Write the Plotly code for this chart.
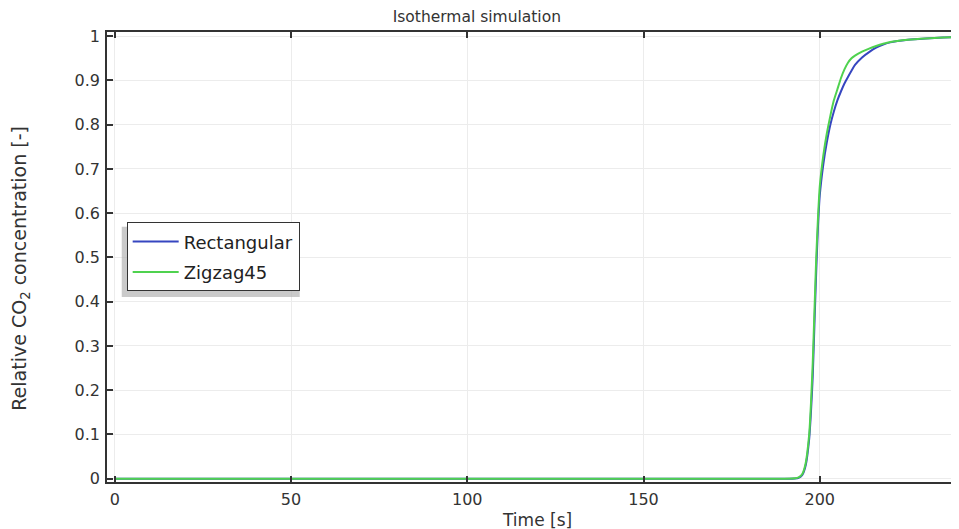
import plotly.graph_objects as go

# Data
time_rect = [0, 150, 190, 193, 194, 195, 196, 197, 197.5, 198, 198.5, 199, 199.5,
             200, 201, 202, 203, 204, 205, 206, 207, 208, 209, 210, 212, 214, 216,
             218, 220, 225, 230, 235, 240]
rect = [0, 0, 0, 0.0005, 0.002, 0.008, 0.03, 0.09, 0.15, 0.23, 0.35, 0.47, 0.57,
        0.64, 0.71, 0.76, 0.80, 0.83, 0.855, 0.875, 0.893, 0.908, 0.922, 0.935, 0.952,
        0.964, 0.974, 0.981, 0.986, 0.992, 0.995, 0.997, 0.998]

time_zig = [0, 150, 190, 193, 194, 195, 196, 197, 197.5, 198, 198.5, 199, 199.5,
            200, 201, 202, 203, 204, 205, 206, 207, 208, 209, 210, 212, 214, 216,
            218, 220, 225, 230, 235, 240]
zig = [0, 0, 0, 0.001, 0.003, 0.01, 0.035, 0.10, 0.17, 0.26, 0.38, 0.50, 0.59,
       0.66, 0.73, 0.78, 0.82, 0.855, 0.88, 0.905, 0.925, 0.94, 0.95, 0.956, 0.965,
       0.972, 0.978, 0.983, 0.987, 0.992, 0.995, 0.997, 0.998]

x_ticks = [0, 50, 100, 150, 200]
y_ticks = [0, 0.1, 0.2, 0.3, 0.4, 0.5, 0.6, 0.7, 0.8, 0.9, 1]
y_tick_text = ["0", "0.1", "0.2", "0.3", "0.4", "0.5", "0.6", "0.7", "0.8", "0.9", "1"]

FONT = "DejaVu Sans"
TXT = "#333333"

fig = go.Figure()
fig.add_trace(go.Scatter(x=time_rect, y=rect, mode="lines", name="Rectangular",
                         legendgroup="a",
                         line=dict(color="#3646c0", width=2, shape="spline", smoothing=0.6)))
fig.add_trace(go.Scatter(x=time_zig, y=zig, mode="lines", name="Zigzag45",
                         legendgroup="b",
                         line=dict(color="#4fd24f", width=2, shape="spline", smoothing=0.6)))

axis_common = dict(showline=True, linecolor="#333333", linewidth=1.5,
                   ticks="inside", ticklen=6, tickcolor="#333333", tickwidth=1.5,
                   showgrid=True, gridcolor="#ececec", gridwidth=1, zeroline=False,
                   tickfont=dict(family=FONT, size=16, color=TXT))

fig.update_xaxes(range=[-2.2, 239.5], tickvals=x_ticks, mirror="ticks", ticklabelstandoff=2,
                 **axis_common)
fig.update_yaxes(range=[-0.0075, 1.0095], tickvals=y_ticks, ticktext=y_tick_text,
                 mirror=False, ticklabelstandoff=2, **axis_common)

fig.update_layout(
    width=951, height=521,
    margin=dict(l=99, r=0, t=24, b=47),
    paper_bgcolor="white", plot_bgcolor="white",
    title=dict(text="Isothermal simulation", x=0.493, xref="container", xanchor="center",
               y=1 - 9 / 521, yref="container", yanchor="middle",
               font=dict(family=FONT, size=15.5, color=TXT)),
    legend=dict(x=0.0231, y=0.577, xanchor="left", yanchor="top",
                bgcolor="white", bordercolor="#333333", borderwidth=1,
                font=dict(family=FONT, size=18, color="#222222"),
                itemwidth=46, tracegroupgap=4),
    showlegend=True,
    shapes=[dict(type="rect", xref="paper", yref="paper",
                 x0=0.0173, x1=0.2262, y0=0.411, y1=0.567,
                 fillcolor="#b4b4b4", line=dict(width=0), opacity=0.7, layer="above")],
    annotations=[
        dict(text="Time [s]", xref="paper", yref="paper", x=0.505, y=-0.0844,
             xanchor="center", yanchor="middle", showarrow=False,
             font=dict(family=FONT, size=17, color=TXT)),
        dict(text="Relative CO<sub>2</sub> concentration [-]", xref="paper", yref="paper",
             x=-0.101, y=0.476, xanchor="center", yanchor="middle", textangle=-90,
             showarrow=False, font=dict(family=FONT, size=19, color=TXT)),
    ],
)

fig.write_html("out.html")
